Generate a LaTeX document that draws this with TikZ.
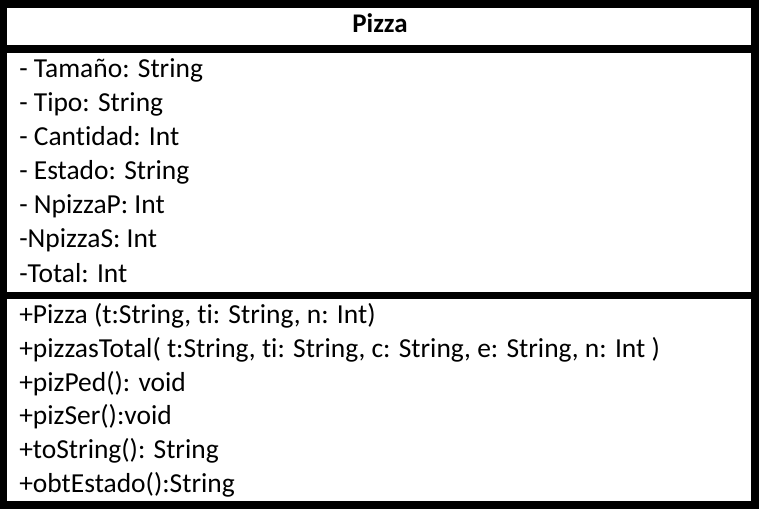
\documentclass[tikz,border=0pt]{standalone}
\usepackage{fontspec}
\setmainfont{Carlito}[Ligatures=NoCommon]
\usetikzlibrary{positioning}

\begin{document}
\begin{tikzpicture}[x=0.75pt,y=-0.75pt,
	class_text/.style={anchor=base west,inner sep=0pt,font=\fontsize{20.6}{24}\selectfont},
	class_title/.style={anchor=base,inner sep=0pt,font=\fontsize{20.2}{24}\selectfont\bfseries}]

		\useasboundingbox (0,0) rectangle (759,509);
		% black frame, the white parts are the three compartments
		\fill[black] (0,0) rectangle (759,509);
		\fill[white] (7,8) rectangle (751,45);
		\fill[white] (7,53) rectangle (751,292);
		\fill[white] (7,299) rectangle (751,501);

		% name of the class
		\node[class_title] (name) at (380,33) {Pizza};

		% attributes
		\node[class_text] (tam) at (19,78) {- Tamaño: String};
		\node[class_text] (tipo) at (19,112) {- Tipo: String};
		\node[class_text] (cant) at (19,146) {- Cantidad: Int};
		\node[class_text] (est) at (19,180) {- Estado: String};
		\node[class_text] (npp) at (19,214) {- NpizzaP: Int};
		\node[class_text] (nps) at (19,248) {-NpizzaS: Int};
		\node[class_text] (tot) at (19,282) {-Total: Int};

		% methods
		\node[class_text] (cons) at (19,323) {+Pizza (t:String, ti: String, n: Int)};
		\node[class_text] (ptot) at (19,357) {+pizzasTotal( t:String, ti: String, c: String, e: String, n: Int )};
		\node[class_text] (pped) at (19,391) {+pizPed(): void};
		\node[class_text] (pser) at (19,424) {+pizSer():void};
		\node[class_text] (tostr) at (19,458) {+toString(): String};
		\node[class_text] (obt) at (19,492) {+obtEstado():String};

	\end{tikzpicture}
\end{document}
